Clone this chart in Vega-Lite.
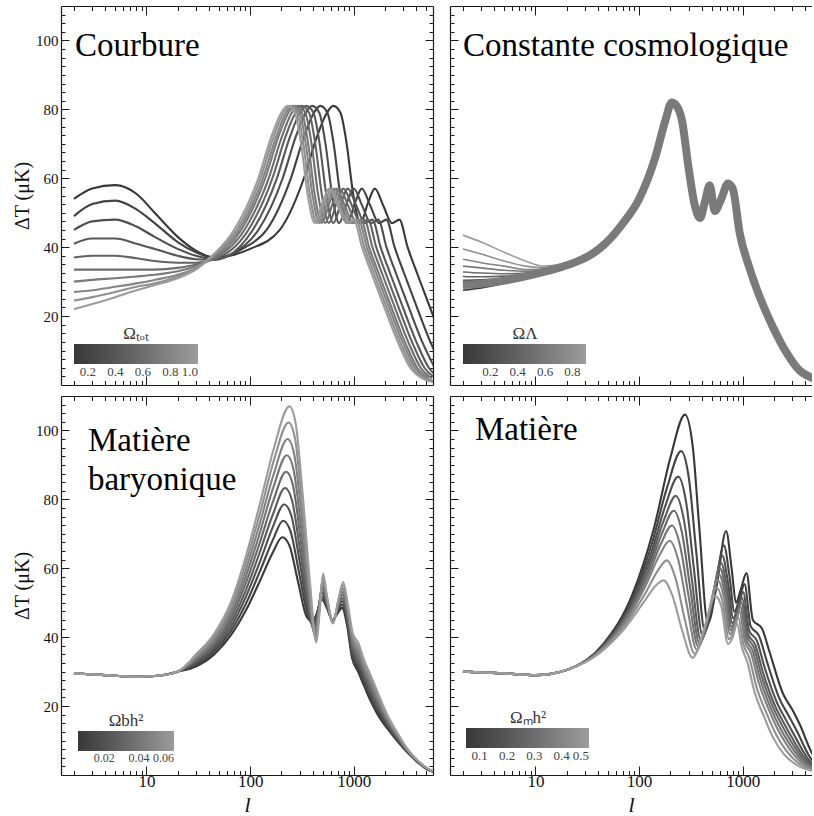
{
"$schema":"https://vega.github.io/schema/vega-lite/v6.json",
"padding":{"left":12,"top":5,"right":0,"bottom":0},
"columns":2,
"spacing":{"row":9,"column":15},
"resolve":{"scale":{"x":"independent","y":"independent","color":"independent"},"legend":{"color":"independent"}},
"datasets":{
"A":[
{"k":0.1,"l":2,"v":54},{"k":0.1,"l":3,"v":57},{"k":0.1,"l":5,"v":58},{"k":0.1,"l":8,"v":55.5},{"k":0.1,"l":12,"v":50},{"k":0.1,"l":20,"v":43},{"k":0.1,"l":30,"v":39},{"k":0.1,"l":45,"v":37},{"k":0.1,"l":100,"v":39.5},{"k":0.1,"l":193,"v":45},{"k":0.1,"l":330,"v":60},{"k":0.1,"l":440,"v":72},{"k":0.1,"l":550,"v":79},{"k":0.1,"l":633,"v":81},{"k":0.1,"l":743,"v":79},{"k":0.1,"l":853,"v":70},{"k":0.1,"l":990,"v":55},{"k":0.1,"l":1155,"v":47},{"k":0.1,"l":1375,"v":53},{"k":0.1,"l":1595,"v":57},{"k":0.1,"l":1925,"v":52},{"k":0.1,"l":2338,"v":47},{"k":0.1,"l":2750,"v":48},{"k":0.1,"l":3300,"v":40},{"k":0.1,"l":4125,"v":32},{"k":0.1,"l":5500,"v":22},{"k":0.1,"l":7425,"v":12},
{"k":0.2,"l":2,"v":49},{"k":0.2,"l":3,"v":52.5},{"k":0.2,"l":5,"v":53.5},{"k":0.2,"l":8,"v":51},{"k":0.2,"l":12,"v":47},{"k":0.2,"l":20,"v":41.5},{"k":0.2,"l":30,"v":38.5},{"k":0.2,"l":45,"v":36.8},{"k":0.2,"l":90,"v":40},{"k":0.2,"l":144,"v":45},{"k":0.2,"l":247,"v":60},{"k":0.2,"l":330,"v":72},{"k":0.2,"l":412,"v":79},{"k":0.2,"l":474,"v":81},{"k":0.2,"l":556,"v":79},{"k":0.2,"l":639,"v":70},{"k":0.2,"l":742,"v":55},{"k":0.2,"l":865,"v":47},{"k":0.2,"l":1030,"v":53},{"k":0.2,"l":1195,"v":57},{"k":0.2,"l":1442,"v":52},{"k":0.2,"l":1751,"v":47},{"k":0.2,"l":2060,"v":48},{"k":0.2,"l":2472,"v":40},{"k":0.2,"l":3090,"v":32},{"k":0.2,"l":4120,"v":22},{"k":0.2,"l":5562,"v":12},{"k":0.2,"l":7210,"v":5},
{"k":0.3,"l":2,"v":45},{"k":0.3,"l":3,"v":47.5},{"k":0.3,"l":5,"v":48},{"k":0.3,"l":8,"v":46},{"k":0.3,"l":12,"v":43},{"k":0.3,"l":20,"v":39.5},{"k":0.3,"l":30,"v":37.5},{"k":0.3,"l":45,"v":36.5},{"k":0.3,"l":70,"v":38.5},{"k":0.3,"l":120,"v":45},{"k":0.3,"l":206,"v":60},{"k":0.3,"l":275,"v":72},{"k":0.3,"l":344,"v":79},{"k":0.3,"l":396,"v":81},{"k":0.3,"l":464,"v":79},{"k":0.3,"l":533,"v":70},{"k":0.3,"l":619,"v":55},{"k":0.3,"l":722,"v":47},{"k":0.3,"l":860,"v":53},{"k":0.3,"l":998,"v":57},{"k":0.3,"l":1204,"v":52},{"k":0.3,"l":1462,"v":47},{"k":0.3,"l":1720,"v":48},{"k":0.3,"l":2064,"v":40},{"k":0.3,"l":2580,"v":32},{"k":0.3,"l":3440,"v":22},{"k":0.3,"l":4644,"v":12},{"k":0.3,"l":6020,"v":5},
{"k":0.4,"l":2,"v":41},{"k":0.4,"l":3,"v":42.5},{"k":0.4,"l":5,"v":42.5},{"k":0.4,"l":8,"v":41},{"k":0.4,"l":12,"v":39.5},{"k":0.4,"l":20,"v":37.5},{"k":0.4,"l":30,"v":36.5},{"k":0.4,"l":45,"v":36.3},{"k":0.4,"l":106,"v":45},{"k":0.4,"l":181,"v":60},{"k":0.4,"l":242,"v":72},{"k":0.4,"l":302,"v":79},{"k":0.4,"l":347,"v":81},{"k":0.4,"l":408,"v":79},{"k":0.4,"l":468,"v":70},{"k":0.4,"l":544,"v":55},{"k":0.4,"l":634,"v":47},{"k":0.4,"l":755,"v":53},{"k":0.4,"l":876,"v":57},{"k":0.4,"l":1057,"v":52},{"k":0.4,"l":1284,"v":47},{"k":0.4,"l":1510,"v":48},{"k":0.4,"l":1812,"v":40},{"k":0.4,"l":2265,"v":32},{"k":0.4,"l":3020,"v":22},{"k":0.4,"l":4077,"v":12},{"k":0.4,"l":5285,"v":5},{"k":0.4,"l":6795,"v":2},
{"k":0.5,"l":2,"v":37},{"k":0.5,"l":3,"v":37.5},{"k":0.5,"l":5,"v":37.5},{"k":0.5,"l":8,"v":36.8},{"k":0.5,"l":12,"v":36},{"k":0.5,"l":20,"v":35.5},{"k":0.5,"l":30,"v":35.5},{"k":0.5,"l":45,"v":36.5},{"k":0.5,"l":96,"v":45},{"k":0.5,"l":164,"v":60},{"k":0.5,"l":219,"v":72},{"k":0.5,"l":274,"v":79},{"k":0.5,"l":315,"v":81},{"k":0.5,"l":370,"v":79},{"k":0.5,"l":425,"v":70},{"k":0.5,"l":493,"v":55},{"k":0.5,"l":575,"v":47},{"k":0.5,"l":685,"v":53},{"k":0.5,"l":795,"v":57},{"k":0.5,"l":959,"v":52},{"k":0.5,"l":1165,"v":47},{"k":0.5,"l":1370,"v":48},{"k":0.5,"l":1644,"v":40},{"k":0.5,"l":2055,"v":32},{"k":0.5,"l":2740,"v":22},{"k":0.5,"l":3699,"v":12},{"k":0.5,"l":4795,"v":5},{"k":0.5,"l":6165,"v":2},
{"k":0.6,"l":2,"v":33.5},{"k":0.6,"l":3,"v":33.5},{"k":0.6,"l":5,"v":33.5},{"k":0.6,"l":8,"v":33.5},{"k":0.6,"l":12,"v":33.5},{"k":0.6,"l":20,"v":34},{"k":0.6,"l":30,"v":35},{"k":0.6,"l":45,"v":36.8},{"k":0.6,"l":88,"v":45},{"k":0.6,"l":151,"v":60},{"k":0.6,"l":202,"v":72},{"k":0.6,"l":252,"v":79},{"k":0.6,"l":290,"v":81},{"k":0.6,"l":340,"v":79},{"k":0.6,"l":391,"v":70},{"k":0.6,"l":454,"v":55},{"k":0.6,"l":529,"v":47},{"k":0.6,"l":630,"v":53},{"k":0.6,"l":731,"v":57},{"k":0.6,"l":882,"v":52},{"k":0.6,"l":1071,"v":47},{"k":0.6,"l":1260,"v":48},{"k":0.6,"l":1512,"v":40},{"k":0.6,"l":1890,"v":32},{"k":0.6,"l":2520,"v":22},{"k":0.6,"l":3402,"v":12},{"k":0.6,"l":4410,"v":5},{"k":0.6,"l":5670,"v":2},
{"k":0.7,"l":2,"v":30},{"k":0.7,"l":3,"v":30.5},{"k":0.7,"l":5,"v":31},{"k":0.7,"l":8,"v":31.5},{"k":0.7,"l":12,"v":32},{"k":0.7,"l":20,"v":33},{"k":0.7,"l":30,"v":34.5},{"k":0.7,"l":45,"v":37},{"k":0.7,"l":82,"v":45},{"k":0.7,"l":140,"v":60},{"k":0.7,"l":187,"v":72},{"k":0.7,"l":234,"v":79},{"k":0.7,"l":269,"v":81},{"k":0.7,"l":316,"v":79},{"k":0.7,"l":363,"v":70},{"k":0.7,"l":421,"v":55},{"k":0.7,"l":491,"v":47},{"k":0.7,"l":585,"v":53},{"k":0.7,"l":679,"v":57},{"k":0.7,"l":819,"v":52},{"k":0.7,"l":995,"v":47},{"k":0.7,"l":1170,"v":48},{"k":0.7,"l":1404,"v":40},{"k":0.7,"l":1755,"v":32},{"k":0.7,"l":2340,"v":22},{"k":0.7,"l":3159,"v":12},{"k":0.7,"l":4095,"v":5},{"k":0.7,"l":5265,"v":2},
{"k":0.8,"l":2,"v":27},{"k":0.8,"l":3,"v":27.5},{"k":0.8,"l":5,"v":28.5},{"k":0.8,"l":8,"v":29.5},{"k":0.8,"l":12,"v":30.5},{"k":0.8,"l":20,"v":32},{"k":0.8,"l":30,"v":34},{"k":0.8,"l":45,"v":37.5},{"k":0.8,"l":78,"v":45},{"k":0.8,"l":133,"v":60},{"k":0.8,"l":178,"v":72},{"k":0.8,"l":222,"v":79},{"k":0.8,"l":255,"v":81},{"k":0.8,"l":300,"v":79},{"k":0.8,"l":344,"v":70},{"k":0.8,"l":400,"v":55},{"k":0.8,"l":466,"v":47},{"k":0.8,"l":555,"v":53},{"k":0.8,"l":644,"v":57},{"k":0.8,"l":777,"v":52},{"k":0.8,"l":944,"v":47},{"k":0.8,"l":1110,"v":48},{"k":0.8,"l":1332,"v":40},{"k":0.8,"l":1665,"v":32},{"k":0.8,"l":2220,"v":22},{"k":0.8,"l":2997,"v":12},{"k":0.8,"l":3885,"v":5},{"k":0.8,"l":4995,"v":2},{"k":0.8,"l":6105,"v":1},
{"k":0.9,"l":2,"v":24.5},{"k":0.9,"l":3,"v":25.5},{"k":0.9,"l":5,"v":27},{"k":0.9,"l":8,"v":28.5},{"k":0.9,"l":12,"v":29.5},{"k":0.9,"l":20,"v":31.5},{"k":0.9,"l":30,"v":34},{"k":0.9,"l":45,"v":38},{"k":0.9,"l":74,"v":45},{"k":0.9,"l":126,"v":60},{"k":0.9,"l":168,"v":72},{"k":0.9,"l":210,"v":79},{"k":0.9,"l":242,"v":81},{"k":0.9,"l":284,"v":79},{"k":0.9,"l":326,"v":70},{"k":0.9,"l":378,"v":55},{"k":0.9,"l":441,"v":47},{"k":0.9,"l":525,"v":53},{"k":0.9,"l":609,"v":57},{"k":0.9,"l":735,"v":52},{"k":0.9,"l":893,"v":47},{"k":0.9,"l":1050,"v":48},{"k":0.9,"l":1260,"v":40},{"k":0.9,"l":1575,"v":32},{"k":0.9,"l":2100,"v":22},{"k":0.9,"l":2835,"v":12},{"k":0.9,"l":3675,"v":5},{"k":0.9,"l":4725,"v":2},{"k":0.9,"l":5775,"v":1},
{"k":1.0,"l":2,"v":22},{"k":1.0,"l":3,"v":23.5},{"k":1.0,"l":5,"v":25.5},{"k":1.0,"l":8,"v":27.5},{"k":1.0,"l":12,"v":29},{"k":1.0,"l":20,"v":31},{"k":1.0,"l":30,"v":33.5},{"k":1.0,"l":45,"v":38},{"k":1.0,"l":70,"v":45},{"k":1.0,"l":120,"v":60},{"k":1.0,"l":160,"v":72},{"k":1.0,"l":200,"v":79},{"k":1.0,"l":230,"v":81},{"k":1.0,"l":270,"v":79},{"k":1.0,"l":310,"v":70},{"k":1.0,"l":360,"v":55},{"k":1.0,"l":420,"v":47},{"k":1.0,"l":500,"v":53},{"k":1.0,"l":580,"v":57},{"k":1.0,"l":700,"v":52},{"k":1.0,"l":850,"v":47},{"k":1.0,"l":1000,"v":48},{"k":1.0,"l":1200,"v":40},{"k":1.0,"l":1500,"v":32},{"k":1.0,"l":2000,"v":22},{"k":1.0,"l":2700,"v":12},{"k":1.0,"l":3500,"v":5},{"k":1.0,"l":4500,"v":2},{"k":1.0,"l":5500,"v":1},{"k":1.0,"l":6500,"v":0.5}
],
"Bb":[
{"l":2,"v":29},{"l":3,"v":29.4},{"l":5,"v":30.3},{"l":8,"v":31.5},{"l":12,"v":32.8},{"l":18,"v":34.3},{"l":25,"v":35.8},{"l":35,"v":38},{"l":47,"v":41},{"l":70,"v":47},{"l":100,"v":54},{"l":143,"v":66},{"l":180,"v":77},{"l":206,"v":82},{"l":230,"v":81},{"l":258,"v":77},{"l":300,"v":63},{"l":345,"v":52},{"l":387,"v":48.5},{"l":430,"v":53},{"l":480,"v":58},{"l":537,"v":50.5},{"l":620,"v":54},{"l":720,"v":58.5},{"l":800,"v":57},{"l":935,"v":44},{"l":1160,"v":34},{"l":1460,"v":25.5},{"l":1940,"v":17},{"l":2650,"v":9.3},{"l":3500,"v":4.3},{"l":4700,"v":2},{"l":6000,"v":1}
],
"B":[
{"k":0.9,"l":2,"v":43.5},{"k":0.9,"l":3,"v":41.5},{"k":0.9,"l":5,"v":38.5},{"k":0.9,"l":8,"v":36},{"k":0.9,"l":12,"v":34.5},{"k":0.9,"l":18,"v":35},{"k":0.9,"l":25,"v":35.8},{"k":0.9,"l":35,"v":38},
{"k":0.8,"l":2,"v":39.5},{"k":0.8,"l":3,"v":38},{"k":0.8,"l":5,"v":36},{"k":0.8,"l":8,"v":34.5},{"k":0.8,"l":12,"v":34},{"k":0.8,"l":18,"v":34.8},{"k":0.8,"l":25,"v":35.8},{"k":0.8,"l":35,"v":38},
{"k":0.7,"l":2,"v":36.5},{"k":0.7,"l":3,"v":35.5},{"k":0.7,"l":5,"v":34.5},{"k":0.7,"l":8,"v":33.5},{"k":0.7,"l":12,"v":33.5},{"k":0.7,"l":18,"v":34.6},{"k":0.7,"l":25,"v":35.8},{"k":0.7,"l":35,"v":38},
{"k":0.6,"l":2,"v":34.5},{"k":0.6,"l":3,"v":34},{"k":0.6,"l":5,"v":33.3},{"k":0.6,"l":8,"v":33},{"k":0.6,"l":12,"v":33.3},{"k":0.6,"l":18,"v":34.5},{"k":0.6,"l":25,"v":35.8},{"k":0.6,"l":35,"v":38},
{"k":0.5,"l":2,"v":32.8},{"k":0.5,"l":3,"v":32.5},{"k":0.5,"l":5,"v":32.3},{"k":0.5,"l":8,"v":32.5},{"k":0.5,"l":12,"v":33.2},{"k":0.5,"l":18,"v":34.5},{"k":0.5,"l":25,"v":35.8},{"k":0.5,"l":35,"v":38},
{"k":0.4,"l":2,"v":31.5},{"k":0.4,"l":3,"v":31.4},{"k":0.4,"l":5,"v":31.6},{"k":0.4,"l":8,"v":32.2},{"k":0.4,"l":12,"v":33},{"k":0.4,"l":18,"v":34.4},{"k":0.4,"l":25,"v":35.8},{"k":0.4,"l":35,"v":38},
{"k":0.3,"l":2,"v":30.4},{"k":0.3,"l":3,"v":30.5},{"k":0.3,"l":5,"v":31},{"k":0.3,"l":8,"v":31.8},{"k":0.3,"l":12,"v":32.8},{"k":0.3,"l":18,"v":34.3},{"k":0.3,"l":25,"v":35.8},{"k":0.3,"l":35,"v":38},
{"k":0.2,"l":2,"v":29.4},{"k":0.2,"l":3,"v":29.7},{"k":0.2,"l":5,"v":30.5},{"k":0.2,"l":8,"v":31.5},{"k":0.2,"l":12,"v":32.6},{"k":0.2,"l":18,"v":34.2},{"k":0.2,"l":25,"v":35.8},{"k":0.2,"l":35,"v":38},
{"k":0.1,"l":2,"v":28.4},{"k":0.1,"l":3,"v":28.9},{"k":0.1,"l":5,"v":30},{"k":0.1,"l":8,"v":31.2},{"k":0.1,"l":12,"v":32.4},{"k":0.1,"l":18,"v":34.1},{"k":0.1,"l":25,"v":35.8},{"k":0.1,"l":35,"v":38},
{"k":0.0,"l":2,"v":27.5},{"k":0.0,"l":3,"v":28.2},{"k":0.0,"l":5,"v":29.5},{"k":0.0,"l":8,"v":30.9},{"k":0.0,"l":12,"v":32.2},{"k":0.0,"l":18,"v":34},{"k":0.0,"l":25,"v":35.8},{"k":0.0,"l":35,"v":38}
],
"C":[
{"k":0.005,"l":2,"v":29.5},{"k":0.005,"l":4,"v":29},{"k":0.005,"l":8,"v":28.5},{"k":0.005,"l":13,"v":28.8},{"k":0.005,"l":20,"v":30},{"k":0.005,"l":30,"v":31.5},{"k":0.005,"l":45,"v":35},{"k":0.005,"l":65,"v":40.5},{"k":0.005,"l":90,"v":47.5},{"k":0.005,"l":125,"v":56.5},{"k":0.005,"l":165,"v":64.5},{"k":0.005,"l":204,"v":69},{"k":0.005,"l":240,"v":66.5},{"k":0.005,"l":290,"v":56},{"k":0.005,"l":350,"v":46},{"k":0.005,"l":400,"v":44.5},{"k":0.005,"l":440,"v":47},{"k":0.005,"l":490,"v":51},{"k":0.005,"l":550,"v":48.5},{"k":0.005,"l":620,"v":45},{"k":0.005,"l":700,"v":47},{"k":0.005,"l":770,"v":48.5},{"k":0.005,"l":860,"v":43.5},{"k":0.005,"l":960,"v":34},{"k":0.005,"l":1100,"v":30},{"k":0.005,"l":1250,"v":26},{"k":0.005,"l":1450,"v":21.5},{"k":0.005,"l":1700,"v":17.5},{"k":0.005,"l":2100,"v":13.5},{"k":0.005,"l":2600,"v":10},{"k":0.005,"l":3300,"v":6.5},{"k":0.005,"l":4200,"v":3.5},{"k":0.005,"l":5200,"v":1.5},{"k":0.005,"l":6200,"v":0.8},
{"k":0.0119,"l":2,"v":29.5},{"k":0.0119,"l":4,"v":29},{"k":0.0119,"l":8,"v":28.5},{"k":0.0119,"l":13,"v":28.8},{"k":0.0119,"l":20,"v":30},{"k":0.0119,"l":30,"v":31.9},{"k":0.0119,"l":45,"v":35.8},{"k":0.0119,"l":65,"v":41.7},{"k":0.0119,"l":90,"v":49.4},{"k":0.0119,"l":125,"v":59.3},{"k":0.0119,"l":166,"v":68.3},{"k":0.0119,"l":208,"v":73.8},{"k":0.0119,"l":244,"v":70.9},{"k":0.0119,"l":294,"v":59.3},{"k":0.0119,"l":354,"v":47.1},{"k":0.0119,"l":404,"v":43.8},{"k":0.0119,"l":444,"v":47.1},{"k":0.0119,"l":492,"v":51.9},{"k":0.0119,"l":550,"v":48.9},{"k":0.0119,"l":621,"v":44.9},{"k":0.0119,"l":701,"v":47.5},{"k":0.0119,"l":773,"v":49.4},{"k":0.0119,"l":863,"v":44.2},{"k":0.0119,"l":963,"v":34.9},{"k":0.0119,"l":1100,"v":31.1},{"k":0.0119,"l":1250,"v":26.9},{"k":0.0119,"l":1450,"v":22.4},{"k":0.0119,"l":1700,"v":18.3},{"k":0.0119,"l":2100,"v":14},{"k":0.0119,"l":2600,"v":10.3},{"k":0.0119,"l":3300,"v":6.6},{"k":0.0119,"l":4200,"v":3.6},{"k":0.0119,"l":5200,"v":1.5},{"k":0.0119,"l":6200,"v":0.8},
{"k":0.0188,"l":2,"v":29.5},{"k":0.0188,"l":4,"v":29},{"k":0.0188,"l":8,"v":28.5},{"k":0.0188,"l":13,"v":28.8},{"k":0.0188,"l":20,"v":30},{"k":0.0188,"l":30,"v":32.4},{"k":0.0188,"l":45,"v":36.5},{"k":0.0188,"l":65,"v":42.9},{"k":0.0188,"l":90,"v":51.4},{"k":0.0188,"l":125,"v":62.1},{"k":0.0188,"l":166,"v":72.1},{"k":0.0188,"l":213,"v":78.5},{"k":0.0188,"l":249,"v":75.4},{"k":0.0188,"l":298,"v":62.5},{"k":0.0188,"l":358,"v":48.3},{"k":0.0188,"l":409,"v":43},{"k":0.0188,"l":448,"v":47.3},{"k":0.0188,"l":494,"v":52.9},{"k":0.0188,"l":550,"v":49.4},{"k":0.0188,"l":623,"v":44.8},{"k":0.0188,"l":703,"v":48},{"k":0.0188,"l":775,"v":50.4},{"k":0.0188,"l":865,"v":44.9},{"k":0.0188,"l":965,"v":35.8},{"k":0.0188,"l":1100,"v":32.1},{"k":0.0188,"l":1250,"v":27.9},{"k":0.0188,"l":1450,"v":23.4},{"k":0.0188,"l":1700,"v":19.1},{"k":0.0188,"l":2100,"v":14.5},{"k":0.0188,"l":2600,"v":10.6},{"k":0.0188,"l":3300,"v":6.8},{"k":0.0188,"l":4200,"v":3.6},{"k":0.0188,"l":5200,"v":1.6},{"k":0.0188,"l":6200,"v":0.8},
{"k":0.0256,"l":2,"v":29.5},{"k":0.0256,"l":4,"v":29},{"k":0.0256,"l":8,"v":28.5},{"k":0.0256,"l":13,"v":28.8},{"k":0.0256,"l":20,"v":30},{"k":0.0256,"l":30,"v":32.8},{"k":0.0256,"l":45,"v":37.3},{"k":0.0256,"l":65,"v":44.1},{"k":0.0256,"l":90,"v":53.3},{"k":0.0256,"l":125,"v":65},{"k":0.0256,"l":167,"v":75.9},{"k":0.0256,"l":217,"v":83.3},{"k":0.0256,"l":253,"v":79.8},{"k":0.0256,"l":301,"v":65.8},{"k":0.0256,"l":361,"v":49.4},{"k":0.0256,"l":413,"v":42.3},{"k":0.0256,"l":451,"v":47.4},{"k":0.0256,"l":496,"v":53.8},{"k":0.0256,"l":550,"v":49.8},{"k":0.0256,"l":624,"v":44.6},{"k":0.0256,"l":704,"v":48.5},{"k":0.0256,"l":778,"v":51.3},{"k":0.0256,"l":868,"v":45.6},{"k":0.0256,"l":968,"v":36.6},{"k":0.0256,"l":1100,"v":33.2},{"k":0.0256,"l":1250,"v":28.8},{"k":0.0256,"l":1450,"v":24.3},{"k":0.0256,"l":1700,"v":19.9},{"k":0.0256,"l":2100,"v":15},{"k":0.0256,"l":2600,"v":10.9},{"k":0.0256,"l":3300,"v":6.9},{"k":0.0256,"l":4200,"v":3.7},{"k":0.0256,"l":5200,"v":1.6},{"k":0.0256,"l":6200,"v":0.8},
{"k":0.0325,"l":2,"v":29.5},{"k":0.0325,"l":4,"v":29},{"k":0.0325,"l":8,"v":28.5},{"k":0.0325,"l":13,"v":28.8},{"k":0.0325,"l":20,"v":30},{"k":0.0325,"l":30,"v":33.3},{"k":0.0325,"l":45,"v":38},{"k":0.0325,"l":65,"v":45.3},{"k":0.0325,"l":90,"v":55.3},{"k":0.0325,"l":125,"v":67.8},{"k":0.0325,"l":168,"v":79.8},{"k":0.0325,"l":222,"v":88},{"k":0.0325,"l":258,"v":84.3},{"k":0.0325,"l":305,"v":69},{"k":0.0325,"l":365,"v":50.5},{"k":0.0325,"l":418,"v":41.5},{"k":0.0325,"l":455,"v":47.5},{"k":0.0325,"l":498,"v":54.8},{"k":0.0325,"l":550,"v":50.3},{"k":0.0325,"l":625,"v":44.5},{"k":0.0325,"l":705,"v":49},{"k":0.0325,"l":780,"v":52.3},{"k":0.0325,"l":870,"v":46.3},{"k":0.0325,"l":970,"v":37.5},{"k":0.0325,"l":1100,"v":34.3},{"k":0.0325,"l":1250,"v":29.8},{"k":0.0325,"l":1450,"v":25.3},{"k":0.0325,"l":1700,"v":20.8},{"k":0.0325,"l":2100,"v":15.5},{"k":0.0325,"l":2600,"v":11.3},{"k":0.0325,"l":3300,"v":7},{"k":0.0325,"l":4200,"v":3.8},{"k":0.0325,"l":5200,"v":1.7},{"k":0.0325,"l":6200,"v":0.8},
{"k":0.0394,"l":2,"v":29.5},{"k":0.0394,"l":4,"v":29},{"k":0.0394,"l":8,"v":28.5},{"k":0.0394,"l":13,"v":28.8},{"k":0.0394,"l":20,"v":30},{"k":0.0394,"l":30,"v":33.7},{"k":0.0394,"l":45,"v":38.8},{"k":0.0394,"l":65,"v":46.4},{"k":0.0394,"l":90,"v":57.2},{"k":0.0394,"l":125,"v":70.6},{"k":0.0394,"l":168,"v":83.6},{"k":0.0394,"l":226,"v":92.8},{"k":0.0394,"l":262,"v":88.7},{"k":0.0394,"l":309,"v":72.3},{"k":0.0394,"l":369,"v":51.6},{"k":0.0394,"l":422,"v":40.8},{"k":0.0394,"l":459,"v":47.6},{"k":0.0394,"l":499,"v":55.7},{"k":0.0394,"l":550,"v":50.7},{"k":0.0394,"l":626,"v":44.4},{"k":0.0394,"l":706,"v":49.5},{"k":0.0394,"l":783,"v":53.2},{"k":0.0394,"l":873,"v":46.9},{"k":0.0394,"l":973,"v":38.4},{"k":0.0394,"l":1100,"v":35.3},{"k":0.0394,"l":1250,"v":30.7},{"k":0.0394,"l":1450,"v":26.2},{"k":0.0394,"l":1700,"v":21.6},{"k":0.0394,"l":2100,"v":16},{"k":0.0394,"l":2600,"v":11.6},{"k":0.0394,"l":3300,"v":7.1},{"k":0.0394,"l":4200,"v":3.8},{"k":0.0394,"l":5200,"v":1.7},{"k":0.0394,"l":6200,"v":0.8},
{"k":0.0463,"l":2,"v":29.5},{"k":0.0463,"l":4,"v":29},{"k":0.0463,"l":8,"v":28.5},{"k":0.0463,"l":13,"v":28.8},{"k":0.0463,"l":20,"v":30},{"k":0.0463,"l":30,"v":34.1},{"k":0.0463,"l":45,"v":39.5},{"k":0.0463,"l":65,"v":47.6},{"k":0.0463,"l":90,"v":59.1},{"k":0.0463,"l":125,"v":73.4},{"k":0.0463,"l":169,"v":87.4},{"k":0.0463,"l":230,"v":97.5},{"k":0.0463,"l":266,"v":93.1},{"k":0.0463,"l":313,"v":75.5},{"k":0.0463,"l":373,"v":52.8},{"k":0.0463,"l":426,"v":40},{"k":0.0463,"l":463,"v":47.8},{"k":0.0463,"l":501,"v":56.6},{"k":0.0463,"l":550,"v":51.1},{"k":0.0463,"l":628,"v":44.3},{"k":0.0463,"l":708,"v":50},{"k":0.0463,"l":785,"v":54.1},{"k":0.0463,"l":875,"v":47.6},{"k":0.0463,"l":975,"v":39.3},{"k":0.0463,"l":1100,"v":36.4},{"k":0.0463,"l":1250,"v":31.6},{"k":0.0463,"l":1450,"v":27.1},{"k":0.0463,"l":1700,"v":22.4},{"k":0.0463,"l":2100,"v":16.5},{"k":0.0463,"l":2600,"v":11.9},{"k":0.0463,"l":3300,"v":7.3},{"k":0.0463,"l":4200,"v":3.9},{"k":0.0463,"l":5200,"v":1.7},{"k":0.0463,"l":6200,"v":0.8},
{"k":0.0531,"l":2,"v":29.5},{"k":0.0531,"l":4,"v":29},{"k":0.0531,"l":8,"v":28.5},{"k":0.0531,"l":13,"v":28.8},{"k":0.0531,"l":20,"v":30},{"k":0.0531,"l":30,"v":34.6},{"k":0.0531,"l":45,"v":40.3},{"k":0.0531,"l":65,"v":48.8},{"k":0.0531,"l":90,"v":61.1},{"k":0.0531,"l":125,"v":76.2},{"k":0.0531,"l":169,"v":91.2},{"k":0.0531,"l":235,"v":102.3},{"k":0.0531,"l":271,"v":97.6},{"k":0.0531,"l":316,"v":78.8},{"k":0.0531,"l":376,"v":53.9},{"k":0.0531,"l":431,"v":39.3},{"k":0.0531,"l":466,"v":47.9},{"k":0.0531,"l":503,"v":57.6},{"k":0.0531,"l":550,"v":51.6},{"k":0.0531,"l":629,"v":44.1},{"k":0.0531,"l":709,"v":50.5},{"k":0.0531,"l":788,"v":55.1},{"k":0.0531,"l":878,"v":48.3},{"k":0.0531,"l":978,"v":40.1},{"k":0.0531,"l":1100,"v":37.4},{"k":0.0531,"l":1250,"v":32.6},{"k":0.0531,"l":1450,"v":28.1},{"k":0.0531,"l":1700,"v":23.2},{"k":0.0531,"l":2100,"v":17},{"k":0.0531,"l":2600,"v":12.2},{"k":0.0531,"l":3300,"v":7.4},{"k":0.0531,"l":4200,"v":3.9},{"k":0.0531,"l":5200,"v":1.8},{"k":0.0531,"l":6200,"v":0.8},
{"k":0.06,"l":2,"v":29.5},{"k":0.06,"l":4,"v":29},{"k":0.06,"l":8,"v":28.5},{"k":0.06,"l":13,"v":28.8},{"k":0.06,"l":20,"v":30},{"k":0.06,"l":30,"v":35},{"k":0.06,"l":45,"v":41},{"k":0.06,"l":65,"v":50},{"k":0.06,"l":90,"v":63},{"k":0.06,"l":125,"v":79},{"k":0.06,"l":170,"v":95},{"k":0.06,"l":239,"v":107},{"k":0.06,"l":275,"v":102},{"k":0.06,"l":320,"v":82},{"k":0.06,"l":380,"v":55},{"k":0.06,"l":435,"v":38.5},{"k":0.06,"l":470,"v":48},{"k":0.06,"l":505,"v":58.5},{"k":0.06,"l":550,"v":52},{"k":0.06,"l":630,"v":44},{"k":0.06,"l":710,"v":51},{"k":0.06,"l":790,"v":56},{"k":0.06,"l":880,"v":49},{"k":0.06,"l":980,"v":41},{"k":0.06,"l":1100,"v":38.5},{"k":0.06,"l":1250,"v":33.5},{"k":0.06,"l":1450,"v":29},{"k":0.06,"l":1700,"v":24},{"k":0.06,"l":2100,"v":17.5},{"k":0.06,"l":2600,"v":12.5},{"k":0.06,"l":3300,"v":7.5},{"k":0.06,"l":4200,"v":4},{"k":0.06,"l":5200,"v":1.8},{"k":0.06,"l":6200,"v":0.8}
],
"D":[
{"k":0.05,"l":2,"v":30},{"k":0.05,"l":5,"v":29.5},{"k":0.05,"l":10,"v":29},{"k":0.05,"l":20,"v":30.5},{"k":0.05,"l":45,"v":38},{"k":0.05,"l":85,"v":52},{"k":0.05,"l":140,"v":72},{"k":0.05,"l":200,"v":92},{"k":0.05,"l":277,"v":104.6},{"k":0.05,"l":330,"v":95},{"k":0.05,"l":380,"v":72},{"k":0.05,"l":460,"v":44},{"k":0.05,"l":560,"v":55},{"k":0.05,"l":690,"v":70.8},{"k":0.05,"l":780,"v":60},{"k":0.05,"l":860,"v":50},{"k":0.05,"l":960,"v":54},{"k":0.05,"l":1085,"v":58.6},{"k":0.05,"l":1250,"v":45},{"k":0.05,"l":1530,"v":42.5},{"k":0.05,"l":1800,"v":36},{"k":0.05,"l":2450,"v":23.5},{"k":0.05,"l":3000,"v":19},{"k":0.05,"l":3530,"v":14.8},{"k":0.05,"l":4700,"v":6},{"k":0.05,"l":6000,"v":2},
{"k":0.11,"l":2,"v":30},{"k":0.11,"l":5,"v":29.5},{"k":0.11,"l":10,"v":29},{"k":0.11,"l":20,"v":30.5},{"k":0.11,"l":44,"v":37.3},{"k":0.11,"l":82,"v":49.8},{"k":0.11,"l":133,"v":67.2},{"k":0.11,"l":188,"v":83.9},{"k":0.11,"l":254,"v":94},{"k":0.11,"l":304,"v":85.5},{"k":0.11,"l":354,"v":65.4},{"k":0.11,"l":431,"v":41.8},{"k":0.11,"l":529,"v":52.1},{"k":0.11,"l":657,"v":66.7},{"k":0.11,"l":745,"v":57.6},{"k":0.11,"l":829,"v":47.4},{"k":0.11,"l":925,"v":50.9},{"k":0.11,"l":1040,"v":55.4},{"k":0.11,"l":1191,"v":43.2},{"k":0.11,"l":1435,"v":40.4},{"k":0.11,"l":1690,"v":33.4},{"k":0.11,"l":2263,"v":22.1},{"k":0.11,"l":2769,"v":17.2},{"k":0.11,"l":3303,"v":12.9},{"k":0.11,"l":4436,"v":5.2},{"k":0.11,"l":5780,"v":1.8},
{"k":0.16,"l":2,"v":30},{"k":0.16,"l":5,"v":29.5},{"k":0.16,"l":10,"v":29},{"k":0.16,"l":20,"v":30.5},{"k":0.16,"l":43,"v":36.9},{"k":0.16,"l":79,"v":48.3},{"k":0.16,"l":129,"v":63.8},{"k":0.16,"l":179,"v":78.1},{"k":0.16,"l":238,"v":86.6},{"k":0.16,"l":285,"v":78.9},{"k":0.16,"l":335,"v":60.8},{"k":0.16,"l":411,"v":40.3},{"k":0.16,"l":508,"v":50.1},{"k":0.16,"l":634,"v":63.7},{"k":0.16,"l":720,"v":55.9},{"k":0.16,"l":808,"v":45.5},{"k":0.16,"l":900,"v":48.8},{"k":0.16,"l":1008,"v":53.1},{"k":0.16,"l":1149,"v":42},{"k":0.16,"l":1369,"v":38.9},{"k":0.16,"l":1613,"v":31.5},{"k":0.16,"l":2131,"v":21.1},{"k":0.16,"l":2606,"v":16},{"k":0.16,"l":3144,"v":11.5},{"k":0.16,"l":4250,"v":4.7},{"k":0.16,"l":5625,"v":1.6},
{"k":0.22,"l":2,"v":30},{"k":0.22,"l":5,"v":29.5},{"k":0.22,"l":10,"v":29},{"k":0.22,"l":20,"v":30.5},{"k":0.22,"l":43,"v":36.5},{"k":0.22,"l":78,"v":47.1},{"k":0.22,"l":125,"v":61.2},{"k":0.22,"l":173,"v":73.9},{"k":0.22,"l":226,"v":81},{"k":0.22,"l":271,"v":73.9},{"k":0.22,"l":321,"v":57.3},{"k":0.22,"l":395,"v":39.1},{"k":0.22,"l":491,"v":48.6},{"k":0.22,"l":617,"v":61.6},{"k":0.22,"l":702,"v":54.6},{"k":0.22,"l":791,"v":44.1},{"k":0.22,"l":882,"v":47.1},{"k":0.22,"l":985,"v":51.4},{"k":0.22,"l":1118,"v":41.1},{"k":0.22,"l":1319,"v":37.8},{"k":0.22,"l":1555,"v":30.1},{"k":0.22,"l":2034,"v":20.3},{"k":0.22,"l":2486,"v":15.1},{"k":0.22,"l":3025,"v":10.5},{"k":0.22,"l":4112,"v":4.3},{"k":0.22,"l":5510,"v":1.5},
{"k":0.28,"l":2,"v":30},{"k":0.28,"l":5,"v":29.5},{"k":0.28,"l":10,"v":29},{"k":0.28,"l":20,"v":30.5},{"k":0.28,"l":42,"v":36.3},{"k":0.28,"l":76,"v":46.2},{"k":0.28,"l":123,"v":59.2},{"k":0.28,"l":168,"v":70.5},{"k":0.28,"l":216,"v":76.7},{"k":0.28,"l":260,"v":70.1},{"k":0.28,"l":310,"v":54.6},{"k":0.28,"l":383,"v":38.2},{"k":0.28,"l":479,"v":47.5},{"k":0.28,"l":603,"v":59.9},{"k":0.28,"l":687,"v":53.6},{"k":0.28,"l":779,"v":43},{"k":0.28,"l":867,"v":45.9},{"k":0.28,"l":966,"v":50.1},{"k":0.28,"l":1093,"v":40.4},{"k":0.28,"l":1281,"v":37},{"k":0.28,"l":1510,"v":29},{"k":0.28,"l":1957,"v":19.7},{"k":0.28,"l":2391,"v":14.4},{"k":0.28,"l":2933,"v":9.7},{"k":0.28,"l":4004,"v":4},{"k":0.28,"l":5420,"v":1.4},
{"k":0.33,"l":2,"v":30},{"k":0.33,"l":5,"v":29.5},{"k":0.33,"l":10,"v":29},{"k":0.33,"l":20,"v":30.5},{"k":0.33,"l":42,"v":36},{"k":0.33,"l":75,"v":45.3},{"k":0.33,"l":120,"v":57.3},{"k":0.33,"l":163,"v":67.2},{"k":0.33,"l":207,"v":72.4},{"k":0.33,"l":250,"v":66.2},{"k":0.33,"l":300,"v":51.9},{"k":0.33,"l":372,"v":37.3},{"k":0.33,"l":466,"v":46.3},{"k":0.33,"l":590,"v":58.2},{"k":0.33,"l":673,"v":52.6},{"k":0.33,"l":766,"v":42},{"k":0.33,"l":853,"v":44.6},{"k":0.33,"l":948,"v":48.8},{"k":0.33,"l":1069,"v":39.6},{"k":0.33,"l":1242,"v":36.1},{"k":0.33,"l":1465,"v":28},{"k":0.33,"l":1881,"v":19.1},{"k":0.33,"l":2297,"v":13.6},{"k":0.33,"l":2840,"v":8.9},{"k":0.33,"l":3896,"v":3.7},{"k":0.33,"l":5330,"v":1.3},
{"k":0.39,"l":2,"v":30},{"k":0.39,"l":5,"v":29.5},{"k":0.39,"l":10,"v":29},{"k":0.39,"l":20,"v":30.5},{"k":0.39,"l":41,"v":35.7},{"k":0.39,"l":74,"v":44.4},{"k":0.39,"l":117,"v":55.3},{"k":0.39,"l":158,"v":63.9},{"k":0.39,"l":197,"v":68},{"k":0.39,"l":239,"v":62.3},{"k":0.39,"l":289,"v":49.2},{"k":0.39,"l":360,"v":36.4},{"k":0.39,"l":454,"v":45.1},{"k":0.39,"l":576,"v":56.5},{"k":0.39,"l":658,"v":51.6},{"k":0.39,"l":754,"v":40.9},{"k":0.39,"l":838,"v":43.4},{"k":0.39,"l":929,"v":47.5},{"k":0.39,"l":1045,"v":38.9},{"k":0.39,"l":1203,"v":35.3},{"k":0.39,"l":1420,"v":26.9},{"k":0.39,"l":1804,"v":18.6},{"k":0.39,"l":2202,"v":12.9},{"k":0.39,"l":2747,"v":8.1},{"k":0.39,"l":3788,"v":3.3},{"k":0.39,"l":5240,"v":1.2},
{"k":0.44,"l":2,"v":30},{"k":0.44,"l":5,"v":29.5},{"k":0.44,"l":10,"v":29},{"k":0.44,"l":20,"v":30.5},{"k":0.44,"l":41,"v":35.4},{"k":0.44,"l":72,"v":43.2},{"k":0.44,"l":114,"v":52.6},{"k":0.44,"l":152,"v":59.4},{"k":0.44,"l":185,"v":62.3},{"k":0.44,"l":224,"v":57.2},{"k":0.44,"l":274,"v":45.6},{"k":0.44,"l":344,"v":35.2},{"k":0.44,"l":437,"v":43.6},{"k":0.44,"l":558,"v":54.3},{"k":0.44,"l":639,"v":50.3},{"k":0.44,"l":737,"v":39.4},{"k":0.44,"l":819,"v":41.7},{"k":0.44,"l":905,"v":45.8},{"k":0.44,"l":1012,"v":38},{"k":0.44,"l":1152,"v":34.1},{"k":0.44,"l":1360,"v":25.4},{"k":0.44,"l":1702,"v":17.8},{"k":0.44,"l":2076,"v":12},{"k":0.44,"l":2624,"v":7.1},{"k":0.44,"l":3644,"v":2.9},{"k":0.44,"l":5120,"v":1.1},
{"k":0.5,"l":2,"v":30},{"k":0.5,"l":5,"v":29.5},{"k":0.5,"l":10,"v":29},{"k":0.5,"l":20,"v":30.5},{"k":0.5,"l":40,"v":35},{"k":0.5,"l":70,"v":42},{"k":0.5,"l":110,"v":50},{"k":0.5,"l":145,"v":55},{"k":0.5,"l":172,"v":56.5},{"k":0.5,"l":210,"v":52},{"k":0.5,"l":260,"v":42},{"k":0.5,"l":328,"v":34},{"k":0.5,"l":420,"v":42},{"k":0.5,"l":540,"v":52},{"k":0.5,"l":620,"v":49},{"k":0.5,"l":720,"v":38},{"k":0.5,"l":800,"v":40},{"k":0.5,"l":880,"v":44},{"k":0.5,"l":980,"v":37},{"k":0.5,"l":1100,"v":33},{"k":0.5,"l":1300,"v":24},{"k":0.5,"l":1600,"v":17},{"k":0.5,"l":1950,"v":11},{"k":0.5,"l":2500,"v":6},{"k":0.5,"l":3500,"v":2.5},{"k":0.5,"l":5000,"v":1}
]
},
"concat":[
{
"width":372,"height":379,
"layer":[
{"data":{"name":"A"},"mark":{"type":"line","interpolate":"monotone","strokeWidth":2.1,"clip":true},
"encoding":{
"x":{"field":"l","type":"quantitative","scale":{"type":"log","domain":[1.5,5800],"nice":false},"axis":{"orient":"bottom","values":[2,3,4,5,6,7,8,9,10,20,30,40,50,60,70,80,90,100,200,300,400,500,600,700,800,900,1000,2000,3000,4000,5000],"labels":false,"title":null,"tickSize":{"condition":{"test":"datum.value==10||datum.value==100||datum.value==1000","value":-9},"value":-4.5}}},
"y":{"field":"v","type":"quantitative","scale":{"domain":[0,110],"nice":false,"zero":false},"axis":{"orient":"left","values":[2.5,5,7.5,10,12.5,15,17.5,20,22.5,25,27.5,30,32.5,35,37.5,40,42.5,45,47.5,50,52.5,55,57.5,60,62.5,65,67.5,70,72.5,75,77.5,80,82.5,85,87.5,90,92.5,95,97.5,100,102.5,105,107.5],"labelExpr":"(datum.value % 20 == 0) ? datum.label : ''","labelFontSize":15,"labelPadding":11,"title":"ΔT (μK)","titleFontSize":20,"titlePadding":3,"tickSize":{"condition":{"test":"datum.value % 20 == 0","value":-8},"value":-4}}},
"color":{"field":"k","type":"quantitative","scale":{"domain":[0.1,1.0],"range":["#383838","#9c9c9c"]},"legend":{"title":"Ωₜₒₜ","values":[0.2,0.4,0.6,0.8,1.0],"format":".1f","gradientLength":124,"legendX":13,"legendY":320}},
"detail":{"field":"k","type":"nominal"}
}},
{"data":{"values":[{"t":"Courbure","l":2.05,"v":95.5}]},"mark":{"type":"text","font":"Liberation Serif","fontSize":33,"align":"left","baseline":"alphabetic","color":"#000"},
"encoding":{
"x":{"field":"l","type":"quantitative","axis":{"orient":"top","values":[2,3,4,5,6,7,8,9,10,20,30,40,50,60,70,80,90,100,200,300,400,500,600,700,800,900,1000,2000,3000,4000,5000],"labels":false,"title":null,"tickSize":{"condition":{"test":"datum.value==10||datum.value==100||datum.value==1000","value":-9},"value":-4.5}}},
"y":{"field":"v","type":"quantitative","axis":{"orient":"right","values":[2.5,5,7.5,10,12.5,15,17.5,20,22.5,25,27.5,30,32.5,35,37.5,40,42.5,45,47.5,50,52.5,55,57.5,60,62.5,65,67.5,70,72.5,75,77.5,80,82.5,85,87.5,90,92.5,95,97.5,100,102.5,105,107.5],"labels":false,"title":null,"tickSize":{"condition":{"test":"datum.value % 20 == 0","value":-8},"value":-4}}},
"text":{"field":"t"}
}}
],
"resolve":{"axis":{"x":"independent","y":"independent"}}
},
{
"width":362,"height":379,
"layer":[
{"data":{"name":"B"},"mark":{"type":"line","interpolate":"monotone","strokeWidth":1.6,"clip":true},
"encoding":{
"x":{"field":"l","type":"quantitative","scale":{"type":"log","domain":[1.5,4650],"nice":false},"axis":{"orient":"bottom","values":[2,3,4,5,6,7,8,9,10,20,30,40,50,60,70,80,90,100,200,300,400,500,600,700,800,900,1000,2000,3000,4000],"labels":false,"title":null,"tickSize":{"condition":{"test":"datum.value==10||datum.value==100||datum.value==1000","value":-9},"value":-4.5}}},
"y":{"field":"v","type":"quantitative","scale":{"domain":[0,110],"nice":false,"zero":false},"axis":{"orient":"left","values":[2.5,5,7.5,10,12.5,15,17.5,20,22.5,25,27.5,30,32.5,35,37.5,40,42.5,45,47.5,50,52.5,55,57.5,60,62.5,65,67.5,70,72.5,75,77.5,80,82.5,85,87.5,90,92.5,95,97.5,100,102.5,105,107.5],"labels":false,"title":null,"tickSize":{"condition":{"test":"datum.value % 20 == 0","value":-8},"value":-4}}},
"color":{"field":"k","type":"quantitative","scale":{"domain":[0,0.9],"range":["#383838","#9c9c9c"]},"legend":{"title":"ΩΛ","values":[0.2,0.4,0.6,0.8],"format":".1f","gradientLength":123,"legendX":13,"legendY":320}},
"detail":{"field":"k","type":"nominal"}
}},
{"data":{"name":"Bb"},"mark":{"type":"line","interpolate":"monotone","strokeWidth":8,"color":"#7a7a7a","clip":true},
"encoding":{
"x":{"field":"l","type":"quantitative","axis":null},
"y":{"field":"v","type":"quantitative","axis":null}
}},
{"data":{"values":[{"t":"Constante cosmologique","l":2.0,"v":95.5}]},"mark":{"type":"text","font":"Liberation Serif","fontSize":33,"align":"left","baseline":"alphabetic","color":"#000"},
"encoding":{
"x":{"field":"l","type":"quantitative","axis":{"orient":"top","values":[2,3,4,5,6,7,8,9,10,20,30,40,50,60,70,80,90,100,200,300,400,500,600,700,800,900,1000,2000,3000,4000],"labels":false,"title":null,"tickSize":{"condition":{"test":"datum.value==10||datum.value==100||datum.value==1000","value":-9},"value":-4.5}}},
"y":{"field":"v","type":"quantitative","axis":null},
"text":{"field":"t"}
}}
],
"resolve":{"axis":{"x":"independent","y":"independent"}}
},
{
"width":372,"height":379,
"layer":[
{"data":{"name":"C"},"mark":{"type":"line","interpolate":"monotone","strokeWidth":2.1,"clip":true},
"encoding":{
"x":{"field":"l","type":"quantitative","scale":{"type":"log","domain":[1.5,5800],"nice":false},"axis":{"orient":"bottom","values":[2,3,4,5,6,7,8,9,10,20,30,40,50,60,70,80,90,100,200,300,400,500,600,700,800,900,1000,2000,3000,4000,5000],"format":"d","labelExpr":"(datum.value==10||datum.value==100||datum.value==1000) ? datum.label : ''","labelFontSize":17,"labelPadding":7,"title":"l","titleFontStyle":"italic","titleFontSize":22,"titlePadding":1,"tickSize":{"condition":{"test":"datum.value==10||datum.value==100||datum.value==1000","value":-9},"value":-4.5}}},
"y":{"field":"v","type":"quantitative","scale":{"domain":[0,110],"nice":false,"zero":false},"axis":{"orient":"left","values":[2.5,5,7.5,10,12.5,15,17.5,20,22.5,25,27.5,30,32.5,35,37.5,40,42.5,45,47.5,50,52.5,55,57.5,60,62.5,65,67.5,70,72.5,75,77.5,80,82.5,85,87.5,90,92.5,95,97.5,100,102.5,105,107.5],"labelExpr":"(datum.value % 20 == 0) ? datum.label : ''","labelFontSize":15,"labelPadding":11,"title":"ΔT (μK)","titleFontSize":20,"titlePadding":3,"tickSize":{"condition":{"test":"datum.value % 20 == 0","value":-8},"value":-4}}},
"color":{"field":"k","type":"quantitative","scale":{"domain":[0.005,0.06],"range":["#383838","#9c9c9c"]},"legend":{"title":"Ωbh²","values":[0.02,0.04,0.06],"format":".2f","gradientLength":96,"labelFontSize":12,"legendX":17,"legendY":317}},
"detail":{"field":"k","type":"nominal"}
}},
{"data":{"values":[{"t":"Matière\nbaryonique","l":2.73,"v":94}]},"mark":{"type":"text","font":"Liberation Serif","fontSize":33,"align":"left","baseline":"alphabetic","lineBreak":"\n","lineHeight":39,"color":"#000"},
"encoding":{
"x":{"field":"l","type":"quantitative","axis":{"orient":"top","values":[2,3,4,5,6,7,8,9,10,20,30,40,50,60,70,80,90,100,200,300,400,500,600,700,800,900,1000,2000,3000,4000,5000],"labels":false,"title":null,"tickSize":{"condition":{"test":"datum.value==10||datum.value==100||datum.value==1000","value":-9},"value":-4.5}}},
"y":{"field":"v","type":"quantitative","axis":{"orient":"right","values":[2.5,5,7.5,10,12.5,15,17.5,20,22.5,25,27.5,30,32.5,35,37.5,40,42.5,45,47.5,50,52.5,55,57.5,60,62.5,65,67.5,70,72.5,75,77.5,80,82.5,85,87.5,90,92.5,95,97.5,100,102.5,105,107.5],"labels":false,"title":null,"tickSize":{"condition":{"test":"datum.value % 20 == 0","value":-8},"value":-4}}},
"text":{"field":"t"}
}}
],
"resolve":{"axis":{"x":"independent","y":"independent"}}
},
{
"width":362,"height":379,
"layer":[
{"data":{"name":"D"},"mark":{"type":"line","interpolate":"monotone","strokeWidth":2.1,"clip":true},
"encoding":{
"x":{"field":"l","type":"quantitative","scale":{"type":"log","domain":[1.5,4650],"nice":false},"axis":{"orient":"bottom","values":[2,3,4,5,6,7,8,9,10,20,30,40,50,60,70,80,90,100,200,300,400,500,600,700,800,900,1000,2000,3000,4000],"format":"d","labelExpr":"(datum.value==10||datum.value==100||datum.value==1000) ? datum.label : ''","labelFontSize":17,"labelPadding":7,"title":"l","titleFontStyle":"italic","titleFontSize":22,"titlePadding":1,"tickSize":{"condition":{"test":"datum.value==10||datum.value==100||datum.value==1000","value":-9},"value":-4.5}}},
"y":{"field":"v","type":"quantitative","scale":{"domain":[0,110],"nice":false,"zero":false},"axis":{"orient":"left","values":[2.5,5,7.5,10,12.5,15,17.5,20,22.5,25,27.5,30,32.5,35,37.5,40,42.5,45,47.5,50,52.5,55,57.5,60,62.5,65,67.5,70,72.5,75,77.5,80,82.5,85,87.5,90,92.5,95,97.5,100,102.5,105,107.5],"labels":false,"title":null,"tickSize":{"condition":{"test":"datum.value % 20 == 0","value":-8},"value":-4}}},
"color":{"field":"k","type":"quantitative","scale":{"domain":[0.05,0.5],"range":["#383838","#9c9c9c"]},"legend":{"title":"Ωₘh²","values":[0.1,0.2,0.3,0.4,0.5],"format":".1f","gradientLength":123,"legendX":16,"legendY":314}},
"detail":{"field":"k","type":"nominal"}
}},
{"data":{"values":[{"t":"Matière","l":2.61,"v":97.2}]},"mark":{"type":"text","font":"Liberation Serif","fontSize":33,"align":"left","baseline":"alphabetic","color":"#000"},
"encoding":{
"x":{"field":"l","type":"quantitative","axis":{"orient":"top","values":[2,3,4,5,6,7,8,9,10,20,30,40,50,60,70,80,90,100,200,300,400,500,600,700,800,900,1000,2000,3000,4000],"labels":false,"title":null,"tickSize":{"condition":{"test":"datum.value==10||datum.value==100||datum.value==1000","value":-9},"value":-4.5}}},
"y":{"field":"v","type":"quantitative","axis":null},
"text":{"field":"t"}
}}
],
"resolve":{"axis":{"x":"independent","y":"independent"}}
}
],
"config":{
"view":{"stroke":null},
"axis":{"grid":false,"domainColor":"#1a1a1a","domainWidth":1.2,"tickColor":"#1a1a1a","tickWidth":1,"labelFont":"Liberation Serif","titleFont":"Liberation Serif","labelColor":"#111","titleColor":"#111","titleFontWeight":"normal","labelOverlap":false,"labelFlush":false},
"legend":{"orient":"none","direction":"horizontal","gradientThickness":20,"titleAnchor":"middle","titleFont":"Liberation Serif","titleFontSize":17,"titleFontWeight":"normal","titleColor":"#333","labelFont":"Liberation Serif","labelFontSize":13,"labelColor":"#444","labelOverlap":false,"labelAlign":"center","padding":0,"gradientStrokeWidth":0,"titlePadding":1}
}
}
